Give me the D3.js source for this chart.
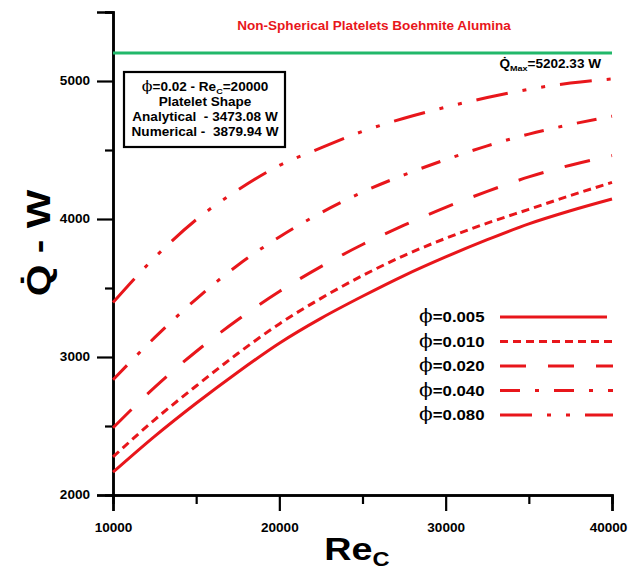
<!DOCTYPE html>
<html>
<head>
<meta charset="utf-8">
<script src="https://cdnjs.cloudflare.com/ajax/libs/d3/7.8.5/d3.min.js"></script>
<style>
  body { margin: 0; background: #fff; }
  svg { display: block; }
  text { font-family: "Liberation Sans", Arial, sans-serif; font-weight: bold; }
  .phi { font-family: "DejaVu Serif", "Liberation Serif", serif; font-weight: normal; }
</style>
</head>
<body>
<svg width="628" height="574"></svg>
<script>
//////////
// DATA //
//////////

let reValues = [10000, 12500, 15000, 17500, 20000, 22500, 25000, 27500, 30000, 32500, 35000, 37500, 40000];
let q005 = [2165, 2425, 2665, 2890, 3100, 3280, 3440, 3590, 3725, 3850, 3965, 4060, 4145];
let q010 = [2276, 2545, 2790, 3025, 3240, 3425, 3590, 3735, 3860, 3970, 4070, 4170, 4265];
let q020 = [2487, 2780, 3040, 3270, 3475, 3655, 3815, 3955, 4085, 4200, 4305, 4390, 4460];
let q040 = [2835, 3140, 3420, 3665, 3870, 4045, 4195, 4320, 4430, 4530, 4615, 4685, 4745];
let q080 = [3395, 3720, 3995, 4210, 4388, 4515, 4635, 4730, 4810, 4880, 4940, 4985, 5015];
let phiLabels = ["0.005", "0.010", "0.020", "0.040", "0.080"];
let dashes = [null, "8,5", "26,22", "20,15,4,15", "32,15,4,15,4,15"];
let qMax = 5202.33;

let xMajor = [10000, 20000, 30000, 40000];
let xMinor = [15000, 25000, 35000];
let yMajor = [2000, 3000, 4000, 5000];
let yMinor = [2500, 3500, 4500, 5500];

let boxLines = ["Platelet Shape", "Analytical  - 3473.08 W", "Numerical -  3879.94 W"];

let series = [q005, q010, q020, q040, q080].map((vals, i) => ({
  label: phiLabels[i],
  dash: dashes[i],
  points: reValues.map((re, j) => ({ re: re, q: vals[j] }))
}));

//////////////
// GRAPHICS //
//////////////

let svg = d3.select("svg");
let red = "#e8161b";
let sx = 1.13; // text in the original is a bit wider than Arial

let x = d3.scaleLinear().domain([10000, 40000]).range([113, 612]);
let y = d3.scaleLinear().domain([2000, 5500]).range([495, 12]);

// put a text at x,y with a horizontal stretch
function addText(px, py, stretch, size) {
  return svg.append("text")
    .attr("transform", `translate(${px},${py}) scale(${stretch},1)`)
    .attr("font-size", size)
    .attr("fill", "#000");
}

// axes
function styleAxis(g) {
  g.select(".domain").attr("stroke", "#000").attr("stroke-width", 2.5);
  g.selectAll(".tick line").attr("stroke", "#000").attr("stroke-width", 2.2);
  g.selectAll(".tick text").attr("fill", "#000").attr("font-size", 12)
    .attr("font-family", "Liberation Sans, Arial, sans-serif").attr("font-weight", "bold");
}

svg.append("g")
  .attr("transform", "translate(0,495)")
  .call(d3.axisBottom(x).tickValues(xMinor).tickSize(9).tickFormat(""))
  .call(styleAxis);
let xAx = svg.append("g")
  .attr("transform", "translate(0,495)")
  .call(d3.axisBottom(x).tickValues(xMajor).tickSize(16).tickPadding(12).tickFormat(d3.format("d")))
  .call(styleAxis);
xAx.selectAll(".tick text")
  .attr("transform", `scale(${sx},1)`)
  // last label sits against the right edge
  .attr("x", d => d == 40000 ? -4 / sx : 0);

svg.append("g")
  .attr("transform", "translate(113,0)")
  .call(d3.axisLeft(y).tickValues(yMinor).tickSize(8).tickFormat(""))
  .call(styleAxis);
let yAx = svg.append("g")
  .attr("transform", "translate(113,0)")
  .call(d3.axisLeft(y).tickValues(yMajor).tickSize(16).tickPadding(7).tickFormat(d3.format("d")))
  .call(styleAxis);
yAx.selectAll(".tick text")
  .attr("x", -23 / sx)
  .attr("transform", `scale(${sx},1)`);

// qmax line
svg.append("line")
  .attr("x1", x(10000)).attr("x2", x(40000))
  .attr("y1", y(qMax)).attr("y2", y(qMax))
  .attr("stroke", "#22b86a")
  .attr("stroke-width", 3);

let qm = addText(601, 68, sx, 12).attr("text-anchor", "end");
qm.append("tspan").text("Q\u0307");
qm.append("tspan").attr("font-size", 8).attr("dy", 3).text("Max");
qm.append("tspan").attr("dy", -3).text("=5202.33 W");

// title
addText(374, 30, sx, 12)
  .attr("text-anchor", "middle")
  .attr("fill", red)
  .text("Non-Spherical Platelets Boehmite Alumina");

// curves
let line = d3.line()
  .x(d => x(d.re))
  .y(d => y(d.q))
  .curve(d3.curveMonotoneX);

svg.selectAll(".curve")
  .data(series)
  .enter()
  .append("path")
  .classed("curve", true)
  .attr("d", d => line(d.points))
  .attr("fill", "none")
  .attr("stroke", red)
  .attr("stroke-width", 3)
  .attr("stroke-dasharray", d => d.dash);

// info box
svg.append("rect")
  .attr("x", 124).attr("y", 72)
  .attr("width", 161).attr("height", 75)
  .attr("fill", "#fff")
  .attr("stroke", "#000")
  .attr("stroke-width", 2.2);

let t1 = addText(205, 91, sx, 12).attr("text-anchor", "middle");
t1.append("tspan").attr("class", "phi").attr("font-size", 14).text("\u03d5");
t1.append("tspan").text("=0.02  -  Re");
t1.append("tspan").attr("font-size", 8).attr("dy", 3).text("C");
t1.append("tspan").attr("dy", -3).text("=20000");

boxLines.forEach((txt, i) => {
  addText(205, 106 + i * 15, sx, 12)
    .attr("text-anchor", "middle")
    .attr("xml:space", "preserve")
    .style("white-space", "pre")
    .text(txt);
});

// legend
series.forEach((s, i) => {
  let ly = 317 + i * 24.5;
  let lt = addText(419, ly + 5, 1.12, 15);
  lt.append("tspan").attr("class", "phi").attr("font-size", 18).text("\u03d5");
  lt.append("tspan").text("=" + s.label);

  svg.append("line")
    .attr("x1", 500).attr("x2", i == 0 ? 607 : 613)
    .attr("y1", ly).attr("y2", ly)
    .attr("stroke", red)
    .attr("stroke-width", 3)
    .attr("stroke-dasharray", s.dash);
});

// axis titles
let xt = addText(357, 560, 1.18, 32).attr("text-anchor", "middle");
xt.append("tspan").text("Re");
xt.append("tspan").attr("font-size", 20).attr("dy", 6).text("C");

svg.append("text")
  .attr("transform", "translate(50, 243) rotate(-90) scale(1.2,1)")
  .attr("text-anchor", "middle")
  .attr("font-size", 34)
  .attr("fill", "#000")
  .attr("xml:space", "preserve")
  .style("white-space", "pre")
  .text("Q\u0307 - W");
</script>
</body>
</html>
